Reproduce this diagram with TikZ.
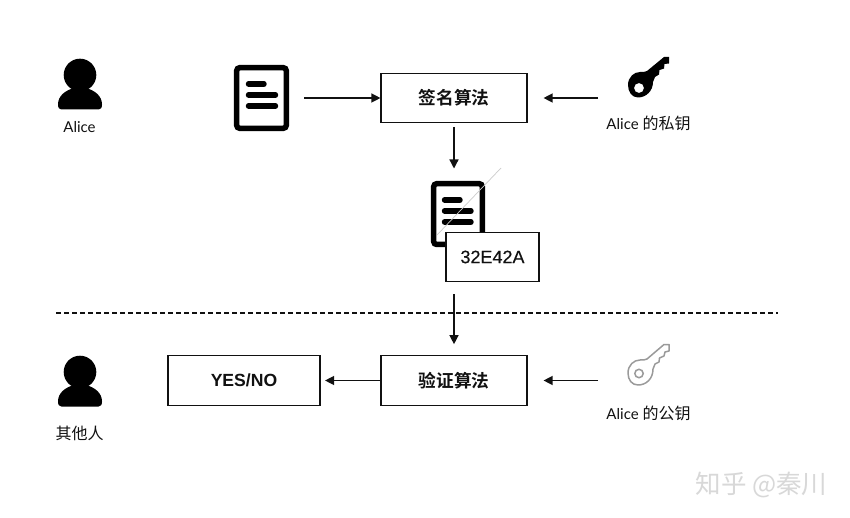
\documentclass[tikz,border=0pt]{standalone}
\usepackage{fontspec}
\setmainfont{Lato}
\newfontfamily\cjk{Noto Sans CJK SC}
\newfontfamily\cjkb{Noto Sans CJK SC Bold}
\newfontfamily\helv{Liberation Sans}
\newfontfamily\helvm[FakeBold=0.25]{Liberation Sans}
\usetikzlibrary{arrows.meta,calc}
\definecolor{ink}{HTML}{111111}
\definecolor{keygray}{HTML}{9A9A9A}
\definecolor{wm}{HTML}{D8D8D8}
\tikzset{
  algobox/.style={draw=ink,line width=1.15pt,fill=white,minimum height=49.5pt,inner sep=0pt,text=ink},
  flow/.style={draw=ink,line width=1.3pt,-{Triangle[length=9pt,width=9pt]}},
  caption/.style={text=ink,inner sep=0pt,font=\fontsize{15}{17}\selectfont},
  doctext/.style={font=\fontsize{17.7}{20}\selectfont\cjkb},
  docframe/.style={draw=black,line width=5.5pt,rounded corners=3pt,fill=white},
  docline/.style={draw=black,line width=5.4pt,line cap=round},
}
\newcommand{\personicon}[2]{%
  \fill[black] (#1,#2) circle (16.3);
  \fill[black] ($(#1,#2)+(-22,29.5)$) .. controls ($(#1,#2)+(-22,21)$) and ($(#1,#2)+(-15,15.5)$) .. ($(#1,#2)+(-6,13)$)
     -- ($(#1,#2)+(6,13)$) .. controls ($(#1,#2)+(15,15.5)$) and ($(#1,#2)+(22,21)$) .. ($(#1,#2)+(22,29.5)$)
     .. controls ($(#1,#2)+(22,33)$) and ($(#1,#2)+(20.5,34.5)$) .. ($(#1,#2)+(18.5,34.5)$)
     -- ($(#1,#2)+(-18.5,34.5)$) .. controls ($(#1,#2)+(-20.5,34.5)$) and ($(#1,#2)+(-22,33)$) .. cycle;
}
\begin{document}
\begin{tikzpicture}[x=1pt,y=-1pt]
\useasboundingbox (0,0) rectangle (850,518);
\fill[white] (0,0) rectangle (850,518);

% people
\personicon{80}{75}
\personicon{80}{372}
\node[caption] (alice) at (79.5,127.5) {Alice};
\node[caption,font=\fontsize{16}{18}\selectfont\cjk] (others) at (79.5,433.5) {其他人};

% plain document
\draw[docframe] (236.7,67.7) rectangle (286.3,128.3);
\draw[docline] (248.5,84) -- (264,84);
\draw[docline] (248.5,95) -- (275.5,95);
\draw[docline] (248.5,106) -- (275.5,106);

% signed document
\draw[docframe] (433.7,183.7) rectangle (482.3,244.5);
\draw[docline] (444.5,200) -- (460,200);
\draw[docline] (444.5,211) -- (471,211);
\draw[docline] (444.5,222) -- (471,222);
\draw[line width=0.7pt,draw=black!20] (501,168) -- (437,235);
\node[algobox,minimum width=93pt,font=\fontsize{18}{20}\selectfont\helvm] (sig) at (492.5,257) {32E42A};

% boxes
\node[algobox,minimum width=146pt,doctext] (sign) at (454,98) {签名算法};
\node[algobox,minimum width=146pt,doctext] (verify) at (454,380.5) {验证算法};
\node[algobox,minimum width=152pt,font=\fontsize{17.6}{20}\selectfont\helv\bfseries] (result) at (244,380.5) {YES/NO};

% private key
\fill[black,even odd rule]
  (664,57) -- (669,57) -- (669,63.5) -- (664.5,64) -- (664,68.5) -- (659.5,70) -- (659,74.5) -- (655,77) -- (653,82)
  .. controls (653,91) and (646,97.5) .. (638,97.5)
  .. controls (632,97.5) and (628,92) .. (628,85)
  .. controls (628,77) and (634,72) .. (640,72)
  .. controls (643,72) and (645.5,72) .. (647,71) -- cycle
  (639,88) circle (5);
\node[caption] (privcap) at (648.5,123) {Alice {\fontsize{16}{18}\selectfont\cjk 的私钥}};

% public key
\draw[keygray,line width=1.5pt,line join=round]
  (664,344.5) -- (669,344.5) -- (669,351) -- (665,352) -- (664,356) -- (659.5,358) -- (659,362) -- (655,364) -- (653,369)
  .. controls (653,379) and (646,385) .. (638,385)
  .. controls (632,385) and (628,380) .. (628,373)
  .. controls (628,365) and (634,360) .. (640,360)
  .. controls (643,360) and (645.5,360) .. (647,359) -- cycle;
\draw[keygray,line width=1.5pt] (639,373.5) circle (4.2);
\node[caption] (pubcap) at (648.5,413) {Alice {\fontsize{16}{18}\selectfont\cjk 的公钥}};

% free connector ends
\coordinate (docout) at (304,98);
\coordinate (privout) at (598,98);
\coordinate (pubout) at (598,380.5);
\coordinate (signed) at (454,168.5);
\coordinate (sigout) at (454,294);

% connectors
\draw[flow] (docout) -- (sign.west);
\draw[flow] (privout) -- ($(sign.east)+(16,0)$);
\draw[flow] (sign.south |- 0,127) -- (signed);
\draw[flow] (sigout) -- ($(verify.north)+(0,-11)$);
\draw[flow] (pubout) -- ($(verify.east)+(16,0)$);
\draw[flow] (verify.west) -- ($(result.east)+(4.5,0)$);

% divider
\draw[draw=ink,line width=2pt,dash pattern=on 5pt off 3pt] (56,312.5) -- (778,312.5);

% watermark
\node[text=wm,inner sep=0pt,font=\fontsize{25.5}{28}\selectfont\cjk] (mark) at (761.5,484.5) {知乎 @秦川};
\end{tikzpicture}
\end{document}
